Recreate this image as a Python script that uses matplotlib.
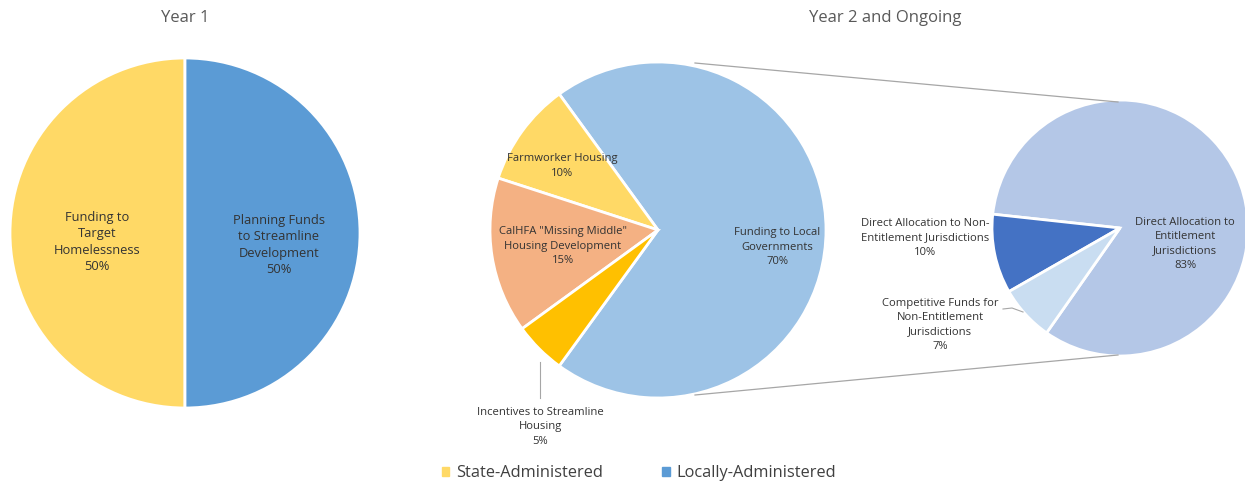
import matplotlib.pyplot as plt
from matplotlib.patches import Patch

plt.rcParams['font.family'] = ['Open Sans', 'DejaVu Sans']

# Year 1 split
y1_labels = ['Funding to\nTarget\nHomelessness', 'Planning Funds\nto Streamline\nDevelopment']
y1_values = [50, 50]
y1_colors = ['#FFD966', '#5B9BD5']

# Year 2 and ongoing
y2_labels = ['Funding to Local\nGovernments', 'Farmworker Housing',
             'CalHFA "Missing Middle"\nHousing Development',
             'Incentives to Streamline\nHousing']
y2_values = [70, 10, 15, 5]
y2_colors = ['#9DC3E6', '#FFD966', '#F4B183', '#FFC000']

# breakdown of the local government share
loc_labels = ['Direct Allocation to\nEntitlement\nJurisdictions',
              'Direct Allocation to Non-\nEntitlement Jurisdictions',
              'Competitive Funds for\nNon-Entitlement\nJurisdictions']
loc_values = [83, 10, 7]
loc_colors = ['#B4C7E7', '#4472C4', '#C9DDF1']

legend_labels = ['State-Administered', 'Locally-Administered']
legend_colors = ['#FFD966', '#5B9BD5']

W, H = 1245, 484
fig = plt.figure(figsize=(W / 100, H / 100), dpi=100)
ax = fig.add_axes([0, 0, 1, 1])

def py(y):
    # pixel row -> data y
    return H - y

wp = dict(edgecolor='white', linewidth=2)
txt = '#333333'
grey = '#A6A6A6'

# Year 1
ax.pie(y1_values, colors=y1_colors, startangle=90, counterclock=True,
       center=(185, py(233)), radius=175, wedgeprops=wp, frame=True)
ax.text(185, py(18), 'Year 1', ha='center', va='center', fontsize=12, color='#595959')
y1_pos = [(97, 242), (279, 245)]
for lab, v, (x, y) in zip(y1_labels, y1_values, y1_pos):
    ax.text(x, py(y), f'{lab}\n{v}%', ha='center', va='center', fontsize=9.3,
            color=txt, linespacing=1.33)

# Year 2
ax.pie(y2_values, colors=y2_colors, startangle=-126, counterclock=True,
       center=(658, py(230)), radius=168, wedgeprops=wp, frame=True)
ax.text(885, py(18), 'Year 2 and Ongoing', ha='center', va='center', fontsize=12,
        color='#595959')
y2_pos = [(777, 247), (562, 166), (563, 246), (540, 427)]
for lab, v, (x, y) in zip(y2_labels, y2_values, y2_pos):
    ax.text(x, py(y), f'{lab}\n{v}%', ha='center', va='center', fontsize=8.1,
            color=txt, linespacing=1.4)
ax.plot([540, 540], [py(362), py(398)], color=grey, lw=0.8)

# second pie
ax.pie(loc_values, colors=loc_colors, startangle=-125, counterclock=True,
       center=(1120, py(228)), radius=128, wedgeprops=wp, frame=True)
loc_pos = [(1185, 244), (925, 238), (940, 325)]
for lab, v, (x, y) in zip(loc_labels, loc_values, loc_pos):
    ax.text(x, py(y), f'{lab}\n{v}%', ha='center', va='center', fontsize=8.1,
            color=txt, linespacing=1.4)
ax.plot([1003, 1012, 1023], [py(309), py(308), py(312)], color=grey, lw=0.8)

# connector lines
ax.plot([695, 1118], [py(63), py(102)], color=grey, lw=0.9)
ax.plot([695, 1118], [py(395), py(355)], color=grey, lw=0.9)

ax.set_xlim(0, W)
ax.set_ylim(0, H)
ax.set_aspect('equal')
ax.axis('off')

handles = [Patch(color=c) for c in legend_colors]
fig.legend(handles, legend_labels, loc='center', bbox_to_anchor=(639 / W, 1 - 473 / H),
           ncol=2, frameon=False, fontsize=11.8, handlelength=0.45, handleheight=0.45,
           handletextpad=0.45, columnspacing=3.6, labelcolor='#404040')

fig.savefig('out.png', dpi=100)
